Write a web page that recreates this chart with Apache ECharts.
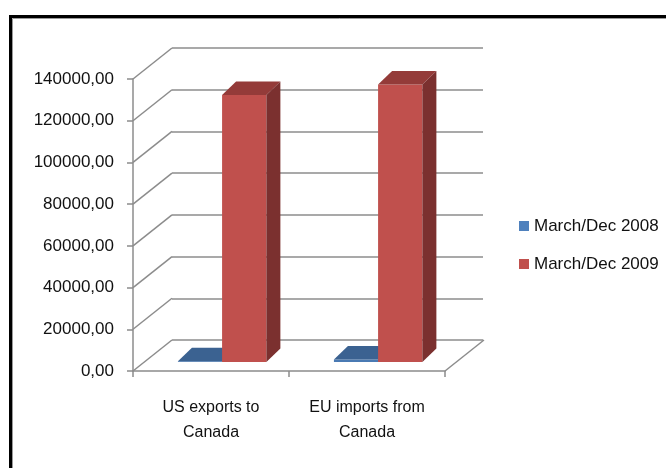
<!DOCTYPE html>
<html>
<head>
<meta charset="utf-8">
<script src="https://cdn.jsdelivr.net/npm/echarts@6/dist/echarts.min.js"></script>
<style>
html,body{margin:0;padding:0;background:#fff;}
#c{width:666px;height:468px;}
</style>
</head>
<body>
<div id="c"></div>
<script>
// ---- data ----
var categories = ['US exports to\nCanada', 'EU imports from\nCanada'];
var seriesNames = ['March/Dec 2008', 'March/Dec 2009'];
var values2008 = [400, 1200];
var values2009 = [128000, 133000];
var yTicks = [0, 20000, 40000, 60000, 80000, 100000, 120000, 140000];

// ---- styling / geometry ----
var FONT = '"Liberation Sans", Arial, sans-serif';
var GRID_COLOR = '#8c8c8c';
var WALL_DX = 39, WALL_DY = 31;     // full floor depth
var BAR_DX = 14, BAR_DY = 13.5;     // bar depth
var BAR_FLOOR_LIFT = 9;             // bar front face above front edge
var faces = [
  {front: '#4a7ab3', top: '#3b6291', side: '#2f4f76'},
  {front: '#c0504d', top: '#943b39', side: '#7b302f'}
];
var barOffsets = [[0.288, 0.571], [0.571, 0.855]];

function barRender(idx) {
  return function (params, api) {
    var cat = api.value(0), val = api.value(1);
    var bandW = api.size([1, 0])[0];
    var base = api.coord([cat, 0]);
    var topP = api.coord([cat, val]);
    var start = base[0] - bandW / 2;
    var x0 = start + bandW * barOffsets[idx][0];
    var x1 = start + bandW * barOffsets[idx][1];
    var yb = base[1] - BAR_FLOOR_LIFT;
    var yt = topP[1] - BAR_FLOOR_LIFT;
    var f = faces[idx];
    return {
      type: 'group',
      children: [
        {type: 'polygon', shape: {points: [[x0, yb], [x1, yb], [x1, yt], [x0, yt]]}, style: {fill: f.front}},
        {type: 'polygon', shape: {points: [[x0, yt], [x1, yt], [x1 + BAR_DX, yt - BAR_DY], [x0 + BAR_DX, yt - BAR_DY]]}, style: {fill: f.top}},
        {type: 'polygon', shape: {points: [[x1, yb], [x1 + BAR_DX, yb - BAR_DY], [x1 + BAR_DX, yt - BAR_DY], [x1, yt]]}, style: {fill: f.side}}
      ]
    };
  };
}

var chart = echarts.init(document.getElementById('c'), null, {renderer: 'canvas'});
var option = {
  backgroundColor: '#fff',
  animation: false,
  textStyle: {fontFamily: FONT},
  graphic: [
    {type: 'rect', shape: {x: 10.5, y: 16.5, width: 700, height: 500}, style: {fill: 'none', stroke: '#000', lineWidth: 3}, z: 100},
    {type: 'rect', shape: {x: 12.5, y: 18.5, width: 700, height: 500}, style: {fill: 'none', stroke: '#9a9a9a', lineWidth: 1}, z: 100}
  ],
  legend: {
    data: seriesNames,
    orient: 'vertical',
    left: 519,
    top: 215,
    padding: 0,
    itemWidth: 10,
    itemHeight: 10,
    itemGap: 16,
    icon: 'rect',
    textStyle: {fontFamily: FONT, fontSize: 17, color: '#111', lineHeight: 22}
  },
  grid: [
    {left: 133, top: 79, width: 312, height: 292},
    {left: 172, top: 48, width: 311, height: 292}
  ],
  xAxis: [
    {
      type: 'category', gridIndex: 0, data: categories, boundaryGap: true,
      axisLine: {lineStyle: {color: GRID_COLOR, width: 1.5}},
      axisTick: {show: true, length: 6, lineStyle: {color: GRID_COLOR, width: 1.5}},
      axisLabel: {interval: 0, fontFamily: FONT, fontSize: 16, color: '#111', lineHeight: 25, margin: 24}
    },
    {type: 'category', gridIndex: 1, data: categories, show: false}
  ],
  yAxis: [
    {
      type: 'value', gridIndex: 0, min: 0, max: 140000, interval: 20000,
      axisLine: {show: true, lineStyle: {color: GRID_COLOR, width: 1.5}},
      axisTick: {show: true, length: 6, lineStyle: {color: GRID_COLOR, width: 1.5}},
      splitLine: {show: false},
      axisLabel: {
        fontFamily: FONT, fontSize: 17, color: '#111', margin: 19,
        formatter: function (v) { return v.toFixed(2).replace('.', ','); }
      }
    },
    {
      type: 'value', gridIndex: 1, min: 0, max: 140000, interval: 20000,
      axisLine: {show: false}, axisTick: {show: false}, axisLabel: {show: false},
      splitLine: {show: true, lineStyle: {color: GRID_COLOR, width: 1.5}}
    }
  ],
  series: [
    {
      name: '_walls', type: 'custom', xAxisIndex: 0, yAxisIndex: 0, silent: true, z: 1,
      data: yTicks.map(function (t) { return [0, t]; }),
      encode: {x: 0, y: 1},
      renderItem: function (params, api) {
        var cs = params.coordSys;
        var p = api.coord([0, api.value(1)]);
        var children = [{type: 'line', shape: {x1: cs.x, y1: p[1], x2: cs.x + WALL_DX, y2: p[1] - WALL_DY}, style: {stroke: GRID_COLOR, lineWidth: 1.5}}];
        if (api.value(1) === 0) {
          children.push({type: 'line', shape: {x1: cs.x + cs.width, y1: p[1], x2: cs.x + cs.width + WALL_DX, y2: p[1] - WALL_DY}, style: {stroke: GRID_COLOR, lineWidth: 1.5}});
        }
        return {type: 'group', children: children};
      }
    },
    {
      name: seriesNames[0], type: 'custom', xAxisIndex: 0, yAxisIndex: 0, z: 3,
      itemStyle: {color: '#4f81bd'},
      data: values2008.map(function (v, i) { return [i, v]; }),
      encode: {x: 0, y: 1},
      renderItem: barRender(0)
    },
    {
      name: seriesNames[1], type: 'custom', xAxisIndex: 0, yAxisIndex: 0, z: 4,
      itemStyle: {color: '#c0504d'},
      data: values2009.map(function (v, i) { return [i, v]; }),
      encode: {x: 0, y: 1},
      renderItem: barRender(1)
    }
  ]
};
chart.setOption(option);
</script>
</body>
</html>
